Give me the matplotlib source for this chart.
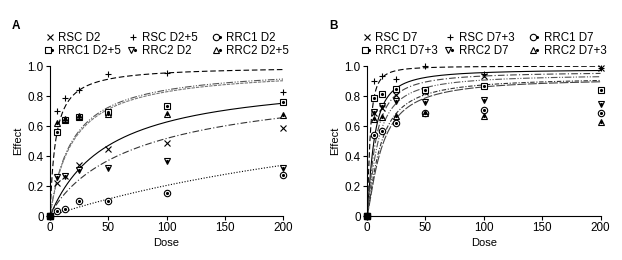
import numpy as np
import matplotlib.pyplot as plt
from matplotlib.legend import Legend
from matplotlib.legend_handler import HandlerTuple

plt.rcParams['font.family'] = ['Liberation Sans', 'DejaVu Sans']
plt.rcParams['font.size'] = 8

# doses used in both panels
dose = [0, 6.25, 12.5, 25, 50, 100, 200]

# panel A measured effects
labels_a = ['RSC D2', 'RSC D2+5', 'RRC1 D2', 'RRC1 D2+5', 'RRC2 D2', 'RRC2 D2+5']
rsc_d2 = [0, 0.22, 0.27, 0.34, 0.445, 0.485, 0.585]
rsc_d2_5 = [0, 0.70, 0.79, 0.84, 0.945, 0.955, 0.825]
rrc1_d2 = [0, 0.035, 0.047, 0.10, 0.10, 0.155, 0.273]
rrc1_d2_5 = [0, 0.56, 0.64, 0.66, 0.695, 0.735, 0.758]
rrc2_d2 = [0, 0.26, 0.27, 0.31, 0.32, 0.37, 0.318]
rrc2_d2_5 = [0, 0.62, 0.645, 0.665, 0.68, 0.68, 0.673]
# fitted Emax / EC50 / hill for each curve in A
emax_a = [0.94, 1.0, 1.0, 1.0, 0.95, 0.99]
ec50_a = [50, 4.8, 390, 19, 82, 19.5]
hill_a = [1.0, 1.0, 1.0, 1.0, 0.9, 1.0]

# panel B measured effects
labels_b = ['RSC D7', 'RSC D7+3', 'RRC1 D7', 'RRC1 D7+3', 'RRC2 D7', 'RRC2 D7+3']
rsc_d7 = [0, 0.69, 0.72, 0.81, 0.83, 0.933, 0.99]
rsc_d7_3 = [0, 0.90, 0.933, 0.913, 1.0, 0.945, 0.99]
rrc1_d7 = [0, 0.54, 0.57, 0.62, 0.685, 0.705, 0.685]
rrc1_d7_3 = [0, 0.785, 0.813, 0.845, 0.84, 0.866, 0.84]
rrc2_d7 = [0, 0.695, 0.733, 0.77, 0.762, 0.773, 0.747]
rrc2_d7_3 = [0, 0.65, 0.66, 0.67, 0.69, 0.667, 0.63]
emax_b = [0.98, 1.0, 0.92, 0.963, 0.945, 0.925]
ec50_b = [5.8, 2.5, 12.7, 7.0, 8.8, 11.2]
hill_b = [1.3, 1.5, 1.3, 1.3, 1.3, 1.3]

markers = ['x', '+', 'o', 's', 'v', '^']
dotted_center = [False, False, True, True, True, True]
styles_a = ['-', (0, (5, 2.5)), (0, (1, 1.5)), (0, (6, 1.5, 1, 1.5, 1, 1.5)),
            (0, (6, 2, 1, 2)), (0, (3, 1))]
styles_b = ['-', (0, (5, 2.5)), (0, (8, 1.5)), (0, (6, 2, 1, 2)),
            (0, (6, 1.5, 1, 1.5, 1, 1.5)), (0, (4, 1.5, 1, 1.5))]
colors_a = ['black', 'black', 'black', '#555555', '#333333', '#777777']
colors_b = ['black', 'black', '#444444', '#444444', '#555555', '#333333']


def hill(x, e, k, h):
    return e * x ** h / (k ** h + x ** h)


def panel(ax, series, labels, emax, ec50, hills, styles, colors, letter):
    xs = np.linspace(0, 200, 400)
    handles = []
    for i, y in enumerate(series):
        ax.plot(xs, hill(xs, emax[i], ec50[i], hills[i]), ls=styles[i],
                color=colors[i], lw=0.8)
        h1, = ax.plot(dose, y, ls='none', marker=markers[i],
                      ms=5 if markers[i] in 'x+' else 4.6,
                      mfc='white', mec='black', mew=0.8, color='black', clip_on=False, zorder=3)
        if dotted_center[i]:
            h2, = ax.plot(dose, y, ls='none', marker='.', ms=2.5, color='black',
                          clip_on=False, zorder=4)
            handles.append((h1, h2))
        else:
            handles.append(h1)
    # origin markers look filled
    ax.plot([0], [0], ls='none', marker='s', ms=4, color='black', clip_on=False, zorder=5)

    ax.set_xlim(0, 200)
    ax.set_ylim(0, 1.0)
    ax.set_xticks([0, 50, 100, 150, 200])
    ax.set_yticks([0, 0.2, 0.4, 0.6, 0.8, 1.0])
    ax.set_yticklabels(['0', '0.2', '0.4', '0.6', '0.8', '1.0'])
    ax.spines['top'].set_visible(False)
    ax.spines['right'].set_visible(False)
    ax.spines['left'].set_linewidth(0.8)
    ax.spines['bottom'].set_linewidth(0.8)
    ax.tick_params(length=3, width=0.8, labelsize=8.4, pad=1.5)
    ax.set_xlabel('Dose', fontsize=8, labelpad=3)
    ax.set_ylabel('Effect', fontsize=8, labelpad=3)

    # one legend per column so the columns sit at fixed places
    col_x = [-0.018, 0.34, 0.703]
    for c in range(3):
        idx = [c, c + 3]
        leg = Legend(ax, [handles[j] for j in idx], [labels[j] for j in idx],
                     handler_map={tuple: HandlerTuple(ndivide=None)},
                     loc='lower left', bbox_to_anchor=(col_x[c], 1.06), frameon=False,
                     fontsize=8.3, handlelength=0.7, handletextpad=0.4,
                     labelspacing=0.1, borderpad=0, borderaxespad=0)
        ax.add_artist(leg)
    ax.text(-0.145, 1.265, letter, transform=ax.transAxes, fontsize=8.5, fontweight='bold',
            ha='center', va='center')


fig = plt.figure(figsize=(6.22, 2.6), dpi=100)
ax_a = fig.add_axes([0.0804, 0.169, 0.3746, 0.577])
ax_b = fig.add_axes([0.590, 0.169, 0.3755, 0.577])

panel(ax_a, [rsc_d2, rsc_d2_5, rrc1_d2, rrc1_d2_5, rrc2_d2, rrc2_d2_5], labels_a,
      emax_a, ec50_a, hill_a, styles_a, colors_a, 'A')
panel(ax_b, [rsc_d7, rsc_d7_3, rrc1_d7, rrc1_d7_3, rrc2_d7, rrc2_d7_3], labels_b,
      emax_b, ec50_b, hill_b, styles_b, colors_b, 'B')

fig.savefig('out.png', dpi=100)
